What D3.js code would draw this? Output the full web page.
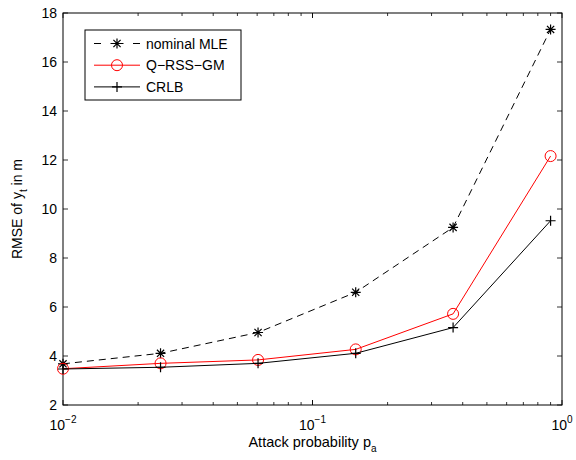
<!DOCTYPE html>
<html>
<head>
<meta charset="utf-8">
<script src="https://cdn.jsdelivr.net/npm/d3@7"></script>
<style>
  body { margin: 0; background: #fff; }
  svg { display: block; font-family: "Liberation Sans", Arial, Helvetica, sans-serif; }
</style>
</head>
<body>
<svg id="chart" width="576" height="460"></svg>
<script>
// data
const attackProb = [0.01, 0.0246, 0.0605, 0.149, 0.366, 0.9];
const nominalMLE = [3.68, 4.11, 4.96, 6.6, 9.25, 17.33];
const qRssGm = [3.48, 3.70, 3.84, 4.27, 5.72, 12.16];
const crlb = [3.47, 3.54, 3.70, 4.11, 5.16, 9.52];
const yTicks = [2, 4, 6, 8, 10, 12, 14, 16, 18];
const xTickExps = [-2, -1, 0];

const series = [
    { key: "mle", label: "nominal MLE", values: nominalMLE, colour: "#000", dash: "7,5", marker: "star" },
    { key: "qrss", label: "Q\u2212RSS\u2212GM", values: qRssGm, colour: "#ff0000", dash: null, marker: "circle" },
    { key: "crlb", label: "CRLB", values: crlb, colour: "#000", dash: null, marker: "plus" }
];

const margin = { left: 63, right: 14, top: 13, bottom: 55 };
const width = 576, height = 460;
const contentsWidth = width - margin.left - margin.right;
const contentsHeight = height - margin.top - margin.bottom;

const svg = d3.select("#chart");
const x = d3.scaleLog().domain([1e-2, 1]).range([0, contentsWidth]);
const y = d3.scaleLinear().domain([2, 18]).range([contentsHeight, 0]);

const contentsG = svg.append("g")
    .attr("class", "chart-contents")
    .attr("transform", `translate(${margin.left}, ${margin.top})`);

// markers
function drawMarker(g, type, colour){
    if(type === "circle"){
        g.append("circle").attr("r", 5.5).attr("fill", "none").attr("stroke", colour).attr("stroke-width", 1);
    }else if(type === "plus"){
        g.append("path").attr("d", "M-5,0H5M0,-5V5").attr("stroke", colour).attr("stroke-width", 1.2);
    }else if(type === "star"){
        const r = 5, d = 3.6;
        g.append("path").attr("d", `M-${r},0H${r}M0,-${r}V${r}M-${d},-${d}L${d},${d}M-${d},${d}L${d},-${d}`)
            .attr("stroke", colour).attr("stroke-width", 1.2);
    }
}

// ticks (inside, MATLAB style)
const tickLen = 5;
const gridG = contentsG.append("g").attr("class", "ticks").attr("stroke", "#000").attr("stroke-width", 0.8);
yTicks.forEach(t => {
    gridG.append("line").attr("x1", 0).attr("x2", tickLen).attr("y1", y(t)).attr("y2", y(t));
    gridG.append("line").attr("x1", contentsWidth).attr("x2", contentsWidth - tickLen).attr("y1", y(t)).attr("y2", y(t));
});
const xMinor = [];
[0.01, 0.1].forEach(base => { for(let k = 1; k <= 10; k++){ xMinor.push(base * k); } });
xMinor.forEach(t => {
    const major = Math.abs(Math.log10(t) - Math.round(Math.log10(t))) < 1e-9;
    const len = major ? tickLen : 3;
    gridG.append("line").attr("x1", x(t)).attr("x2", x(t)).attr("y1", contentsHeight).attr("y2", contentsHeight - len);
    gridG.append("line").attr("x1", x(t)).attr("x2", x(t)).attr("y1", 0).attr("y2", len);
});

// box
contentsG.append("rect")
    .attr("width", contentsWidth).attr("height", contentsHeight)
    .attr("fill", "none").attr("stroke", "#000").attr("stroke-width", 1);

// tick labels
contentsG.selectAll("text.y-tick").data(yTicks).enter()
    .append("text")
    .attr("class", "y-tick")
    .attr("x", -6).attr("y", d => y(d))
    .attr("text-anchor", "end").attr("dominant-baseline", "central")
    .attr("font-size", 14)
    .text(d => d);

const xLabelG = contentsG.selectAll("text.x-tick").data(xTickExps).enter()
    .append("text")
    .attr("class", "x-tick")
    .attr("x", d => x(Math.pow(10, d)))
    .attr("y", contentsHeight + 25)
    .attr("text-anchor", "middle")
    .attr("font-size", 14);
xLabelG.append("tspan").text("10");
xLabelG.append("tspan").attr("dy", -7).attr("font-size", 10).text(d => d < 0 ? "\u2212" + Math.abs(d) : d);

// axis titles
const xTitle = svg.append("text")
    .attr("x", margin.left + contentsWidth / 2).attr("y", 447)
    .attr("text-anchor", "middle").attr("font-size", 14.5);
xTitle.append("tspan").text("Attack probability p");
xTitle.append("tspan").attr("dy", 5).attr("font-size", 10).text("a");

const yTitle = svg.append("text")
    .attr("transform", `translate(22, ${margin.top + contentsHeight / 2}) rotate(-90)`)
    .attr("text-anchor", "middle").attr("font-size", 14);
yTitle.append("tspan").text("RMSE of y");
yTitle.append("tspan").attr("dy", 5).attr("font-size", 10).text("t");
yTitle.append("tspan").attr("dy", -5).text(" in m");

// lines
const line = d3.line().x(d => x(d[0])).y(d => y(d[1]));
series.forEach(s => {
    const pts = attackProb.map((p, i) => [p, s.values[i]]);
    contentsG.append("path")
        .datum(pts)
        .attr("class", `line line-${s.key}`)
        .attr("d", line)
        .attr("fill", "none")
        .attr("stroke", s.colour)
        .attr("stroke-width", 1)
        .attr("stroke-dasharray", s.dash);
    contentsG.selectAll(`g.marker-${s.key}`).data(pts).enter()
        .append("g")
        .attr("class", `marker-${s.key}`)
        .attr("transform", d => `translate(${x(d[0])}, ${y(d[1])})`)
        .each(function(){ drawMarker(d3.select(this), s.marker, s.colour); });
});

// legend
const legendG = svg.append("g").attr("class", "legend").attr("transform", "translate(85, 30)");
legendG.append("rect").attr("width", 156).attr("height", 70)
    .attr("fill", "#fff").attr("stroke", "#000").attr("stroke-width", 1);
series.forEach((s, i) => {
    const rowG = legendG.append("g").attr("transform", `translate(0, ${13.5 + i * 21.7})`);
    rowG.append("line").attr("x1", 9).attr("x2", 55).attr("y1", 0).attr("y2", 0)
        .attr("stroke", s.colour).attr("stroke-width", 1)
        .attr("stroke-dasharray", s.dash ? "7,9.5,13,9.5,7" : null);
    drawMarker(rowG.append("g").attr("transform", "translate(32, 0)"), s.marker, s.colour);
    rowG.append("text").attr("x", 61).attr("y", 0)
        .attr("dominant-baseline", "central").attr("font-size", 14)
        .text(s.label);
});
</script>
</body>
</html>
